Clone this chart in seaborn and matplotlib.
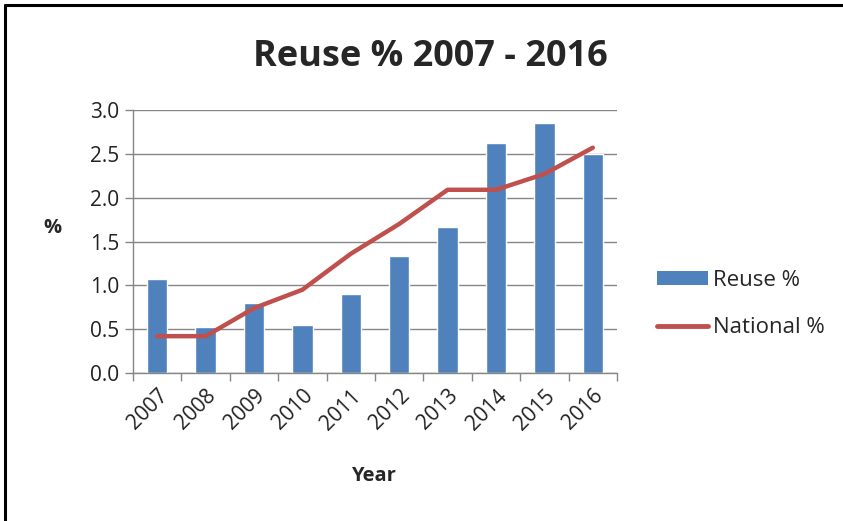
import numpy as np
import pandas as pd
import matplotlib
matplotlib.use("Agg")
import matplotlib.pyplot as plt
from matplotlib.lines import Line2D
from matplotlib.patches import Patch
import seaborn as sns

# Data
years = ["2007", "2008", "2009", "2010", "2011", "2012", "2013", "2014", "2015", "2016"]
reuse_pct = [1.07, 0.53, 0.80, 0.55, 0.90, 1.34, 1.67, 2.62, 2.85, 2.50]
national_pct = [0.42, 0.42, 0.74, 0.95, 1.36, 1.70, 2.09, 2.09, 2.27, 2.57]
y_ticks = [0.0, 0.5, 1.0, 1.5, 2.0, 2.5, 3.0]

bar_color = "#4F81BD"
line_color = "#C0504D"
grid_color = "#868686"
font = ["Open Sans", "DejaVu Sans"]

sns.set_theme(style="white")
plt.rcParams["font.family"] = font

df = pd.DataFrame({"Year": years, "Reuse": reuse_pct, "National": national_pct})
df["pos"] = np.arange(len(years))

W, H = 843, 521
fig = plt.figure(figsize=(W / 100, H / 100), dpi=100)
ax = fig.add_axes([133 / W, 1 - 373 / H, (617 - 133) / W, (373 - 110) / H])

sns.barplot(data=df, x="Year", y="Reuse", color=bar_color, width=0.42,
            saturation=1, ax=ax, zorder=2)
sns.lineplot(data=df, x="pos", y="National", color=line_color, linewidth=3.2,
             ax=ax, zorder=3)

ax.set_xlim(-0.5, len(years) - 0.5)
ax.set_ylim(0, 3.0)
ax.set_yticks(y_ticks)
ax.set_yticklabels([f"{v:.1f}" for v in y_ticks], fontsize=15, color="#222222")
ax.set_xticks(np.arange(len(years)))
ax.set_xticklabels(years, rotation=45, ha="right", rotation_mode="anchor",
                   fontsize=15, color="#222222")
ax.set_xticks(np.arange(len(years) + 1) - 0.5, minor=True)
ax.tick_params(axis="x", which="major", length=0, pad=9)
ax.tick_params(axis="x", which="minor", length=6, width=1, color=grid_color,
               direction="out", bottom=True)
ax.tick_params(axis="y", which="major", length=6, width=1, color=grid_color,
               direction="out", left=True, pad=4)

ax.yaxis.grid(True, color=grid_color, linewidth=1)
ax.xaxis.grid(False)
ax.set_axisbelow(True)
for side in ["top", "right"]:
    ax.spines[side].set_visible(False)
for side in ["left", "bottom"]:
    ax.spines[side].set_color(grid_color)
    ax.spines[side].set_linewidth(1)

ax.set_xlabel("")
ax.set_ylabel("")
fig.text(52 / W, 1 - 228 / H, "%", fontsize=14.5, fontweight="bold",
         ha="center", va="center", family=font)
fig.text(373 / W, 1 - 476 / H, "Year", fontsize=14.5, fontweight="bold",
         ha="center", va="center", family=font)
fig.text(430 / W, 1 - 57 / H, "Reuse % 2007 - 2016", fontsize=26,
         fontweight="bold", ha="center", va="center", family=font)

handles = [Patch(facecolor=bar_color, edgecolor="none"),
           Line2D([0], [0], color=line_color, linewidth=3.5)]
fig.legend(handles, ["Reuse %", "National %"], loc="center left",
           bbox_to_anchor=(637 / W, 1 - 304 / H), frameon=False,
           fontsize=16, handlelength=2.3, handleheight=0.55,
           handletextpad=0.2, labelspacing=1.2)

# outer frame (top and left edges)
fig.add_artist(Line2D([5 / W, 1], [1 - 5 / H, 1 - 5 / H], color="black",
                      linewidth=2.2, transform=fig.transFigure))
fig.add_artist(Line2D([5 / W, 5 / W], [0, 1 - 5 / H], color="black",
                      linewidth=2.2, transform=fig.transFigure))

fig.savefig("out.png", dpi=100, facecolor="white")
